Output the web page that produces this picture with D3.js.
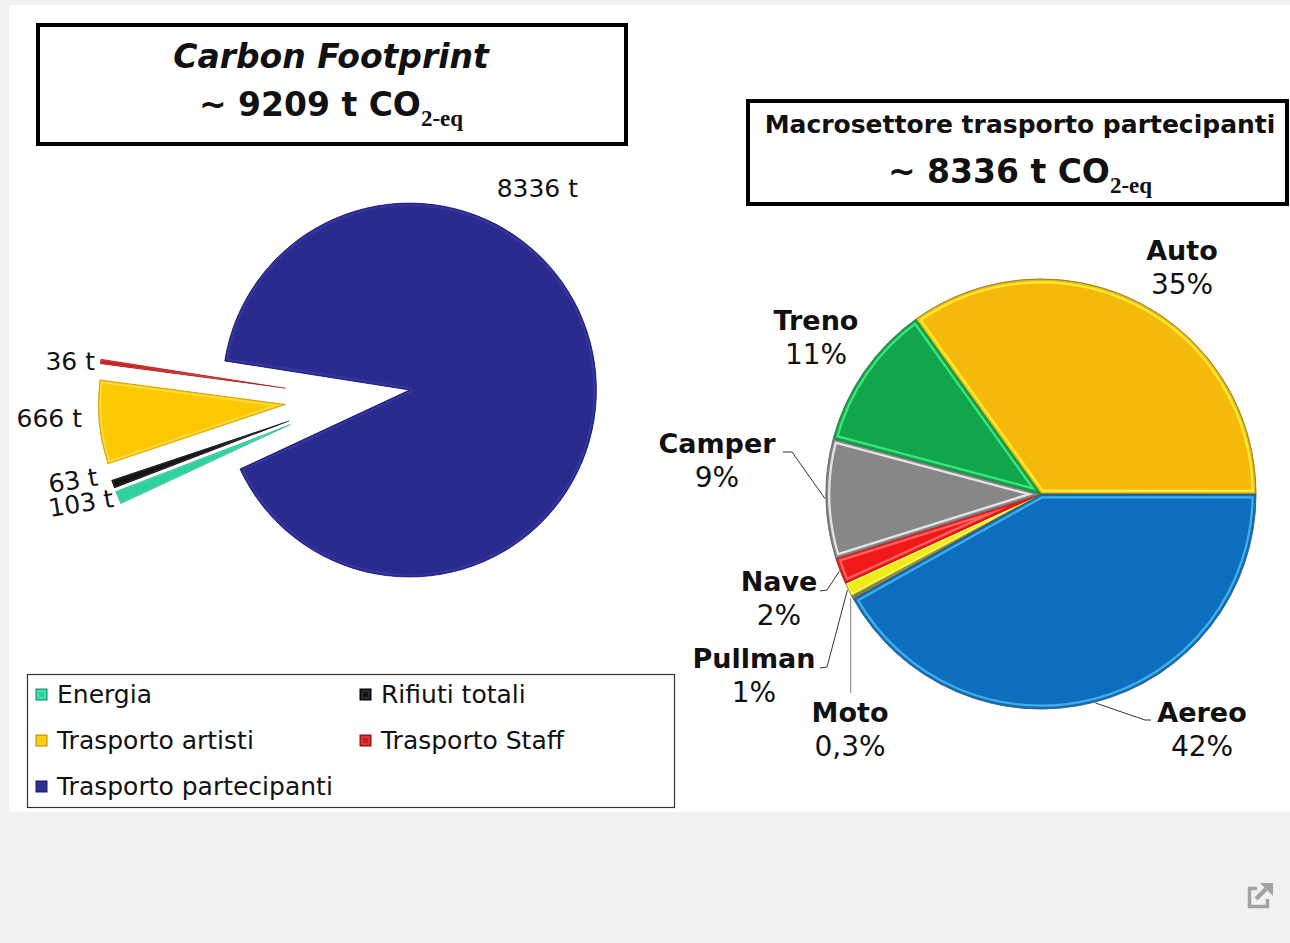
<!DOCTYPE html>
<html>
<head>
<meta charset="utf-8">
<script src="https://cdn.jsdelivr.net/npm/d3@7"></script>
<style>
  html, body { margin: 0; padding: 0; background: #f1f1f1; }
  svg { display: block; }
  text { font-family: "DejaVu Sans", Verdana, sans-serif; fill: #111; }
</style>
</head>
<body>
<svg id="chart" width="1290" height="943"></svg>
<script>
// ---- Carbon footprint by macro-sector (t CO2-eq) ----
const sectors      = ["Energia", "Rifiuti totali", "Trasporto artisti", "Trasporto Staff", "Trasporto partecipanti"];
const sectorTonnes = [103, 63, 666, 36, 8336];
const sectorLabels = ["103 t", "63 t", "666 t", "36 t", "8336 t"];
const footprintTotal = "9209";

// ---- Participant transport, share by travel mode (%) ----
const modes       = ["Auto", "Aereo", "Moto", "Pullman", "Nave", "Camper", "Treno"];
const modeShares  = [35, 42, 0.3, 1, 2, 9, 11];
const modeLabels  = ["35%", "42%", "0,3%", "1%", "2%", "9%", "11%"];
const transportTotal = "8336";

// ---- styles ----
const sectorFill  = ["#2fd1a0", "#151515", "#fcc800", "#c81f1f", "#2b2b8e"];
const sectorLight = ["#86f2cc", "#5a5a5a", "#ffe45a", "#ff6a6a", "#3c3ca8"];
const sectorEdge  = ["#168c6a", "#000000", "#c08800", "#7a0f0f", "#1c1c68"];

const modeFill  = ["#f5b90c", "#0d6ebe", "#6b6b3a", "#f0ec1c", "#f01818", "#878787", "#11a64c"];
const modeLight = ["#fff33b", "#4bbaf2", "#9a9a60", "#ffff90", "#ff7272", "#f4f4f4", "#45f082"];
const modeEdge  = ["#a88308", "#08508c", "#444444", "#a89f00", "#a00000", "#5a5a5a", "#0a7a36"];

// ---- layout ----
const leftPie  = { cx: 353, cy: 398, r: 187, start: 245 };
const sectorExplode = [68, 68, 68, 68, 57];
// label anchor [x, y, rotation, text-anchor]
const sectorLabelPos = [[50, 517, -9, "start"], [50, 493, -9, "start"], [82, 427, 0, "end"], [95, 370, 0, "end"], [578, 197, 0, "end"]];

const rightPie = { cx: 1041, cy: 494, r: 215, start: -35.6 };
// label centre [x, baseline of name]
const modeLabelPos = [[1182, 260], [1202, 722], [850, 722], [754, 668], [779, 591], [717, 453], [816, 330]];
// leader-line elbow points (from the slice rim towards the label)
const modeLeaders = [null, [[1145, 720], [1151, 720]], "down:693", [[827, 667], [820, 668]], [[827, 590], [820, 591]], [[792, 452], [783, 452]], null];

const svg  = d3.select("#chart");
const defs = svg.append("defs");
const rad  = deg => deg * Math.PI / 180;

// white panel
svg.append("rect").attr("x", 9).attr("y", 5).attr("width", 1281).attr("height", 807).attr("fill", "#ffffff");

// a pie slice with a soft bevel: base fill, a light line just inside the rim, darker outline
let clipCount = 0;
function drawSlice(g, pathD, fill, light, edge, opts = {}) {
  const id = "sliceClip" + (clipCount++);
  defs.append("clipPath").attr("id", id).append("path").attr("d", pathD);
  const band = opts.band || 4, inset = opts.inset || 1.6;
  g.append("path").attr("d", pathD).attr("fill", fill);
  g.append("path").attr("d", pathD).attr("fill", "none")
    .attr("stroke", light).attr("stroke-width", band * 2).attr("stroke-opacity", opts.lightOpacity || 0.9)
    .attr("stroke-linejoin", "round").attr("clip-path", `url(#${id})`);
  g.append("path").attr("d", pathD).attr("fill", "none")
    .attr("stroke", opts.rim || fill).attr("stroke-width", inset * 2)
    .attr("stroke-linejoin", "round").attr("clip-path", `url(#${id})`);
  g.append("path").attr("d", pathD).attr("fill", "none")
    .attr("stroke", edge).attr("stroke-width", opts.edgeWidth || 0.8).attr("stroke-opacity", 0.8);
}

// ================= Left: total footprint =================
const pieL = d3.pie().sort(null).value(d => d)
  .startAngle(rad(leftPie.start)).endAngle(rad(leftPie.start) + 2 * Math.PI);
const arcL = d3.arc().innerRadius(0).outerRadius(leftPie.r);
const slicesL = pieL(sectorTonnes);

const gL = svg.append("g").attr("transform", `translate(${leftPie.cx},${leftPie.cy})`);
slicesL.forEach((d, i) => {
  const mid = (d.startAngle + d.endAngle) / 2;
  const dx = Math.sin(mid) * sectorExplode[i], dy = -Math.cos(mid) * sectorExplode[i];
  const g = gL.append("g").attr("transform", `translate(${dx},${dy})`);
  const thin = (d.endAngle - d.startAngle) < 0.1;
  drawSlice(g, arcL(d), sectorFill[i], sectorLight[i], sectorEdge[i],
    thin ? { band: 1, inset: 0.4, edgeWidth: 0.5, lightOpacity: 0.6 } : { band: 3, inset: 1.2, lightOpacity: 0.7 });
});

sectorLabels.forEach((t, i) => {
  const [x, y, rot, anchor] = sectorLabelPos[i];
  svg.append("text").attr("transform", `translate(${x},${y}) rotate(${rot})`)
    .attr("text-anchor", anchor).attr("font-size", 25).text(t);
});

// title box
svg.append("rect").attr("x", 38).attr("y", 25).attr("width", 588).attr("height", 119)
  .attr("fill", "#fff").attr("stroke", "#000").attr("stroke-width", 4);
svg.append("text").attr("x", 331).attr("y", 68).attr("text-anchor", "middle")
  .attr("font-size", 33).attr("font-weight", "bold").attr("font-style", "italic").text("Carbon Footprint");
const t1 = svg.append("text").attr("x", 331).attr("y", 116).attr("text-anchor", "middle")
  .attr("font-size", 33).attr("font-weight", "bold");
t1.append("tspan").text(`~ ${footprintTotal} t CO`);
t1.append("tspan").attr("dy", 10).attr("font-size", 23).attr("font-family", "Liberation Serif, serif").text("2-eq");

// legend
svg.append("rect").attr("x", 27.5).attr("y", 674.5).attr("width", 647).attr("height", 133)
  .attr("fill", "#fff").attr("stroke", "#333").attr("stroke-width", 1.2);
const legendColX = [36, 360], legendRowY = [703, 749, 795];
sectors.forEach((s, i) => {
  const x = legendColX[i % 2], y = legendRowY[Math.floor(i / 2)];
  const g = svg.append("g");
  g.append("rect").attr("x", x).attr("y", y - 14).attr("width", 11).attr("height", 11)
    .attr("fill", sectorFill[i]).attr("stroke", sectorEdge[i]).attr("stroke-width", 1);
  g.append("rect").attr("x", x + 2).attr("y", y - 12).attr("width", 7).attr("height", 7)
    .attr("fill", "none").attr("stroke", sectorLight[i]).attr("stroke-width", 1).attr("stroke-opacity", 0.6);
  g.append("text").attr("x", x + 21).attr("y", y).attr("font-size", 25).text(s);
});

// ================= Right: participant transport =================
const pieR = d3.pie().sort(null).value(d => d)
  .startAngle(rad(rightPie.start)).endAngle(rad(rightPie.start) + 2 * Math.PI);
const arcR = d3.arc().innerRadius(0).outerRadius(rightPie.r);
const slicesR = pieR(modeShares);

const gR = svg.append("g").attr("transform", `translate(${rightPie.cx},${rightPie.cy})`);
slicesR.forEach((d, i) => {
  const g = gR.append("g");
  const thin = (d.endAngle - d.startAngle) < 0.08;
  drawSlice(g, arcR(d), modeFill[i], modeLight[i], modeEdge[i],
    thin ? { band: 1.5, inset: 0.5, edgeWidth: 0.6 } : { band: 4.5, inset: 2.2, lightOpacity: 0.85 });
});
// soft rim shadow
gR.append("circle").attr("r", rightPie.r).attr("fill", "none")
  .attr("stroke", "#6b6b5a").attr("stroke-width", 1).attr("stroke-opacity", 0.55);

// leader lines
const rimPoint = (d, extra) => {
  const m = (d.startAngle + d.endAngle) / 2, r = rightPie.r + extra;
  return [rightPie.cx + Math.sin(m) * r, rightPie.cy - Math.cos(m) * r];
};
const line = d3.line();
slicesR.forEach((d, i) => {
  const L = modeLeaders[i];
  if (!L) return;
  if (typeof L === "string") {
    const p = rimPoint(d, 2), yEnd = +L.split(":")[1];
    svg.append("path").attr("d", line([p, [p[0], yEnd]])).attr("fill", "none")
      .attr("stroke", "#9a9a9a").attr("stroke-width", 1.3);
  } else {
    svg.append("path").attr("d", line([rimPoint(d, 1), ...L])).attr("fill", "none")
      .attr("stroke", "#333").attr("stroke-width", 1);
  }
});

// labels
modes.forEach((m, i) => {
  const [x, y] = modeLabelPos[i];
  svg.append("text").attr("x", x).attr("y", y).attr("text-anchor", "middle")
    .attr("font-size", 27).attr("font-weight", "bold").text(m);
  svg.append("text").attr("x", x).attr("y", y + 34).attr("text-anchor", "middle")
    .attr("font-size", 28).attr("fill", "#222").text(modeLabels[i]);
});

// title box
svg.append("rect").attr("x", 748).attr("y", 101).attr("width", 539).attr("height", 103)
  .attr("fill", "#fff").attr("stroke", "#000").attr("stroke-width", 4);
svg.append("text").attr("x", 1020).attr("y", 133).attr("text-anchor", "middle")
  .attr("font-size", 25).attr("font-weight", "bold").text("Macrosettore trasporto partecipanti");
const t2 = svg.append("text").attr("x", 1020).attr("y", 183).attr("text-anchor", "middle")
  .attr("font-size", 33).attr("font-weight", "bold");
t2.append("tspan").text(`~ ${transportTotal} t CO`);
t2.append("tspan").attr("dy", 10).attr("font-size", 23).attr("font-family", "Liberation Serif, serif").text("2-eq");

// open-in-new-window glyph
const icon = svg.append("g").attr("transform", "translate(1247,882)");
icon.append("path").attr("d", "M10,6.5 H2.5 V24.5 H20.5 V17").attr("fill", "none")
  .attr("stroke", "#a3a3a3").attr("stroke-width", 3.5);
icon.append("path").attr("d", "M9,17 L19,7").attr("stroke", "#a3a3a3").attr("stroke-width", 4.5);
icon.append("path").attr("d", "M13,1 H26 V14 Z").attr("fill", "#a3a3a3");
</script>
</body>
</html>
